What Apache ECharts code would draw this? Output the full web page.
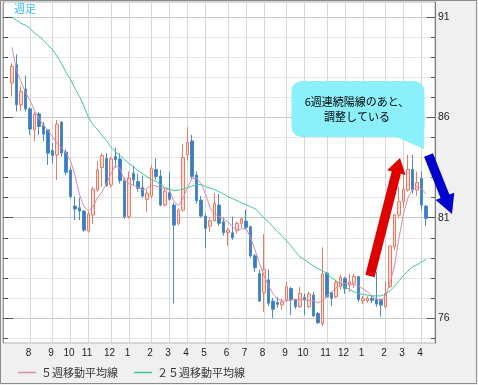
<!DOCTYPE html>
<html><head><meta charset="utf-8">
<script src="https://cdn.jsdelivr.net/npm/echarts@6/dist/echarts.min.js"></script>
<style>html,body{margin:0;padding:0;background:#f0f0f0}#c{width:478px;height:385px}</style>
</head><body><div id="c"></div>
<script>
// ---- data (USD/JPY-like weekly candles) ----
const startWeek = '2010-07-05';
const weekCount = 93;
const monthTicks = ['8','9','10','11','12','1','2','3','4','5','6','7','8','9','10','11','12','1','2','3','4'];
const opens = [87.72,88.63,86.63,87.42,86.43,85.38,86.18,85.6,85.38,84.35,
84.13,85.77,84.27,83.38,81.58,81.5,81.33,80.33,81.13,82.38,
83.5,83.97,82.63,84.05,83.93,82.85,81.05,83.22,82.8,82.5,
81.92,82.08,83.41,83.08,81.63,82.25,81.63,80.72,81.38,84.13,
84.83,83.13,81.88,81.08,80.58,80.85,81.63,80.8,80.25,80.25,
80.35,80.72,80.83,80.55,79.1,78.22,77.26,77.9,76.84,76.78,
76.65,76.9,77.47,76.92,76.56,77.03,76.56,77.14,76.23,75.7,
78.23,77.26,77.06,77.56,77.97,77.64,77.73,78.06,76.86,76.86,
76.98,76.93,76.92,76.56,77.56,79.55,81.13,81.8,82.38,83.41,
82.38,82.96,81.58];
const closes = [88.55,86.63,87.3,86.43,85.42,86.17,85.55,85.17,84.22,84.1,
85.67,84.22,83.27,82.05,81.43,81.33,80.38,81.2,82.43,83.38,
84.1,82.6,83.93,83.9,82.85,81.05,82.97,82.88,82.47,82.08,
82.22,83.46,83.05,81.63,82.33,81.92,80.63,81.38,84.0,84.76,
83.05,81.85,81.08,80.47,80.85,81.72,80.72,80.25,80.38,80.0,
80.72,80.95,80.52,79.09,78.5,76.84,78.43,76.73,76.43,76.68,
76.8,77.56,76.89,76.56,77.22,76.9,77.2,76.1,75.76,78.2,
77.06,76.98,77.76,78.02,77.47,77.8,78.06,76.92,76.98,76.98,
76.88,76.69,76.64,77.22,79.58,81.13,81.8,82.42,83.41,82.38,
82.75,81.63,80.97];
const lows = [87.05,86.3,86.33,86.3,85.13,84.8,85.13,84.83,83.63,83.7,
82.88,84.05,83.13,81.97,80.88,80.88,80.3,80.25,80.7,82.3,
82.55,82.55,82.5,83.5,82.7,80.95,80.95,82.6,82.3,82.0,
81.3,81.97,82.9,81.57,81.55,81.85,76.73,80.62,81.3,83.85,
82.95,81.7,81.0,79.47,80.3,80.8,80.6,80.1,79.6,79.9,
80.2,80.5,80.4,79.0,78.3,76.8,76.31,76.6,76.0,76.5,
76.4,76.8,76.14,76.45,76.5,76.14,76.5,76.05,75.7,75.6,
77.0,76.6,77.0,77.4,77.2,77.3,77.5,76.8,76.7,76.75,
76.75,76.56,76.06,76.5,77.5,79.4,81.0,81.5,82.3,82.2,
82.1,81.4,80.58];
const highs = [88.7,89.15,87.55,88.1,86.5,86.27,86.27,85.77,85.42,84.73,
85.88,85.8,84.4,83.55,82.05,82.0,81.38,81.3,82.55,83.83,
84.22,84.22,84.05,84.5,84.22,83.0,83.3,83.6,83.2,83.1,
82.38,83.63,83.96,83.38,82.47,83.3,81.75,81.47,84.68,85.51,
85.13,83.3,82.08,81.2,81.0,82.22,82.2,81.0,80.5,81.05,
80.8,81.0,81.4,80.6,79.2,78.4,80.18,78.4,77.0,77.05,
76.95,77.8,77.55,76.92,77.55,77.22,77.3,77.3,76.3,79.52,
78.3,77.3,77.9,78.15,78.05,78.2,78.2,78.1,77.1,77.08,
77.1,78.3,76.95,77.8,79.6,81.2,82.55,83.3,84.13,84.13,
83.3,83.3,81.63];
const ma5 = [89.5,88.35,87.8,87.25,86.85,86.35,85.95,85.6,85.35,85.05,
84.7,84.5,84.2,83.85,83.1,82.15,81.55,81.35,81.55,82.0,
82.3,82.7,83.2,83.6,83.45,82.85,82.7,82.62,82.52,82.4,
82.45,82.62,82.58,82.5,82.45,82.38,81.8,81.6,81.97,82.5,
82.95,82.97,82.7,82.2,81.5,81.2,81.05,80.95,80.8,80.55,
80.38,80.45,80.47,80.0,79.4,78.72,78.1,77.6,77.2,76.95,
76.85,76.85,76.9,76.93,76.92,76.9,76.88,76.85,76.75,76.85,
77.1,77.3,77.5,77.65,77.72,77.7,77.65,77.6,77.45,77.3,
77.1,76.95,76.88,77.1,77.75,78.6,80.0,81.2,82.0,82.4,
82.55,82.45,82.2];
const ma25 = [91.0,90.85,90.7,90.6,90.45,90.2,90.05,89.85,89.6,89.4,
89.05,88.7,88.25,87.9,87.45,87.05,86.55,86.0,85.65,85.4,
85.1,84.85,84.5,84.3,84.1,83.9,83.7,83.55,83.35,83.2,
83.05,82.9,82.82,82.65,82.5,82.42,82.35,82.38,82.42,82.5,
82.58,82.65,82.65,82.55,82.48,82.4,82.3,82.18,82.05,81.95,
81.85,81.75,81.65,81.55,81.45,81.25,80.98,80.8,80.55,80.3,
80.1,79.85,79.6,79.3,79.05,78.9,78.75,78.6,78.45,78.35,
78.2,78.0,77.85,77.7,77.55,77.42,77.3,77.22,77.18,77.13,
77.1,77.1,77.1,77.18,77.35,77.58,77.85,78.12,78.35,78.55,
78.65,78.8,78.92];
const majorTicks = [76,81,86,91];
const minorTicks = [75,77,78,79,80,82,83,84,85,87,88,89,90];
const seriesNames = ['５週移動平均線','２５週移動平均線'];

// ---- build axis categories (2 empty slots before, 2 after) ----
const padL = 2, padR = 2;
const cats = [], labelMap = {};
for (let k = 0; k < padL; k++) cats.push('');
let mi = 0;
const d0 = new Date(startWeek + 'T00:00:00Z');
for (let i = 0; i < weekCount; i++) {
  const d = new Date(d0.getTime() + i * 7 * 86400000);
  const s = d.toISOString().slice(0, 10);
  cats.push(s);
  if (i > 0 && d.getUTCDate() <= 7 && mi < monthTicks.length) labelMap[padL + i] = monthTicks[mi++];
}
for (let k = 0; k < padR; k++) cats.push('');
const pad = (arr) => Array(padL).fill('-').concat(arr, Array(padR).fill('-'));
const candle = [];
for (let k = 0; k < padL; k++) candle.push(['-','-','-','-']);
for (let i = 0; i < weekCount; i++) candle.push([opens[i], closes[i], lows[i], highs[i]]);
for (let k = 0; k < padR; k++) candle.push(['-','-','-','-']);
const isMonth = (idx) => labelMap[idx] !== undefined;

// ---- annotation helpers ----
function arrow(tx, ty, hx, hy, sw, hw, hl) {
  const dx = hx - tx, dy = hy - ty, L = Math.hypot(dx, dy);
  const ux = dx / L, uy = dy / L, px = -uy, py = ux;
  const bx = hx - ux * hl, by = hy - uy * hl;
  return [[tx + px*sw/2, ty + py*sw/2], [bx + px*sw/2, by + py*sw/2], [bx + px*hw/2, by + py*hw/2],
          [hx, hy], [bx - px*hw/2, by - py*hw/2], [bx - px*sw/2, by - py*sw/2], [tx - px*sw/2, ty - py*sw/2]];
}

const yMin = 74.75, yMax = 91.76;
const numFont = 'Liberation Sans';
const cjk = 'Noto Sans CJK JP';
const chart = echarts.init(document.getElementById('c'), null, {renderer: 'canvas'});
const yBase = {type: 'value', min: yMin, max: yMax, axisLabel: {show: false}, splitLine: {show: false}, axisLine: {show: false}};
chart.setOption({
  animation: false,
  backgroundColor: '#f0f0f0',
  grid: {left: 3, right: 43, top: 2, bottom: 42, show: true, backgroundColor: '#ffffff', borderColor: '#b4b4b4', borderWidth: 1},
  legend: {
    left: 13, top: 362, itemWidth: 18, itemHeight: 1.5, itemGap: 16, icon: 'rect',
    data: seriesNames,
    textStyle: {fontFamily: cjk, fontSize: 11, color: '#333'}
  },
  xAxis: {
    type: 'category', data: cats, boundaryGap: false,
    axisLine: {show: false}, axisTick: {show: false},
    axisLabel: {interval: (i) => isMonth(i), formatter: (v, i) => labelMap[i] || '', fontFamily: numFont, fontSize: 10, color: '#222', margin: 5, padding: [0, 3, 0, 0]},
    splitLine: {show: true, interval: (i) => isMonth(i), lineStyle: {color: '#d6d6d6', width: 1}}
  },
  yAxis: [
    Object.assign({}, yBase, {position: 'right',
      axisLine: {show: true, lineStyle: {color: '#7a7a7a'}},
      axisTick: {show: true, inside: true, length: 8, customValues: majorTicks, lineStyle: {color: '#555'}},
      axisLabel: {show: true, customValues: majorTicks, margin: 3, fontFamily: numFont, fontSize: 10.5, color: '#222'},
      splitLine: {show: true, lineStyle: {color: '#c8c8c8'}}}),
    Object.assign({}, yBase, {position: 'right',
      axisTick: {show: true, inside: true, length: 4, customValues: minorTicks, lineStyle: {color: '#555'}},
      splitLine: {show: true, lineStyle: {color: '#e6e6e6'}}}),
    Object.assign({}, yBase, {position: 'left',
      axisLine: {show: true, lineStyle: {color: '#999'}},
      axisTick: {show: true, inside: true, length: 10, customValues: majorTicks, lineStyle: {color: '#555'}}}),
    Object.assign({}, yBase, {position: 'left',
      axisTick: {show: true, inside: true, length: 5, customValues: minorTicks, lineStyle: {color: '#555'}}})
  ],
  series: [
    {type: 'candlestick', name: '週足', data: candle, barWidth: 3, yAxisIndex: 0,
     itemStyle: {color: '#fadcd2', color0: '#3a7dc2', borderColor: '#e67a62', borderColor0: '#4a8bcc', borderWidth: 1}},
    {type: 'line', name: seriesNames[0], data: pad(ma5), yAxisIndex: 0, symbol: 'none', lineStyle: {color: '#d88cb2', width: 1}, itemStyle: {color: '#d88cb2'}},
    {type: 'line', name: seriesNames[1], data: pad(ma25), yAxisIndex: 0, symbol: 'none', lineStyle: {color: '#46c893', width: 1}, itemStyle: {color: '#46c893'}}
  ],
  graphic: [
    {type: 'rect', shape: {x: 0.5, y: 0.5, width: 476, height: 383}, style: {fill: 'none', stroke: '#8a8a8a', lineWidth: 1}, z: 100},
    {type: 'text', left: 14, top: 3, style: {text: '週足', fill: '#33bff0', font: '11px "Noto Sans CJK JP"'}, z: 50},
    {type: 'rect', shape: {x: 291.5, y: 81, width: 133, height: 56, r: 10}, style: {fill: '#8cf0fa'}, z: 50},
    {type: 'polygon', shape: {points: [[394, 136], [424.5, 118], [424, 149]]}, style: {fill: '#8cf0fa'}, z: 50},
    {type: 'text', x: 357, y: 102, style: {text: '6週連続陽線のあと、', fill: '#000', font: '11px "Noto Sans CJK JP"', align: 'center', verticalAlign: 'middle'}, z: 51},
    {type: 'text', x: 357, y: 117, style: {text: '調整している', fill: '#000', font: '11px "Noto Sans CJK JP"', align: 'center', verticalAlign: 'middle'}, z: 51},
    {type: 'polygon', shape: {points: arrow(370, 276, 400, 158, 9.5, 19, 15)}, style: {fill: '#e00000'}, z: 60},
    {type: 'polygon', shape: {points: arrow(428.5, 155, 452, 214, 9.5, 20, 19)}, style: {fill: '#0000cc'}, z: 60}
  ]
});
</script></body></html>
